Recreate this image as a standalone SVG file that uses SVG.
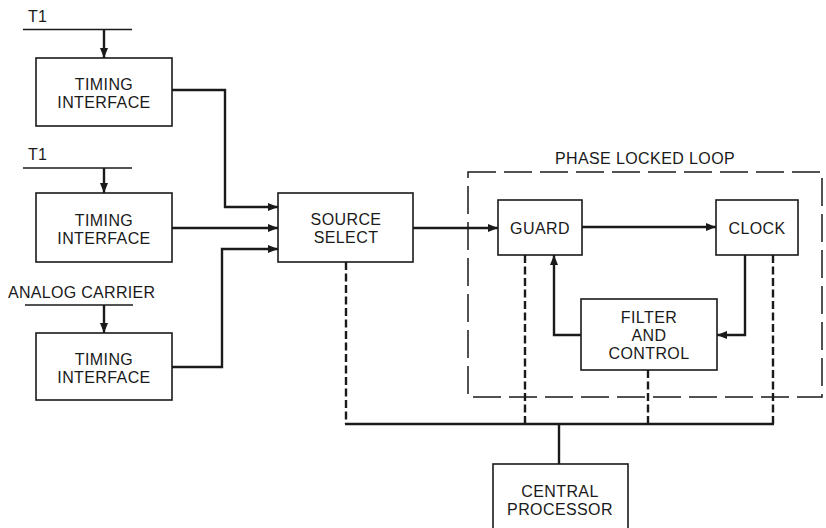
<svg xmlns="http://www.w3.org/2000/svg" width="826" height="528" viewBox="0 0 826 528">
<style>
.box{fill:#fff;stroke:#1a1a1a;stroke-width:1.6}
.t{font-family:"Liberation Sans",Arial,sans-serif;font-size:16px;fill:#1a1a1a;text-anchor:middle;letter-spacing:0.4px}
.tl{font-family:"Liberation Sans",Arial,sans-serif;font-size:16px;fill:#1a1a1a;letter-spacing:0.3px}
.w{fill:none;stroke:#1a1a1a;stroke-width:2.4}
.thin{fill:none;stroke:#1a1a1a;stroke-width:1.5}
.d{fill:none;stroke:#1a1a1a;stroke-width:2.4;stroke-dasharray:8,3.5}
.pll{fill:none;stroke:#1a1a1a;stroke-width:1.5;stroke-dasharray:28,8}
</style>
<defs>
<marker id="ah" viewBox="0 0 10 8" refX="10" refY="4" markerWidth="10" markerHeight="8" markerUnits="userSpaceOnUse" orient="auto">
<path d="M0,0 L10,4 L0,8 z" fill="#1a1a1a"/>
</marker>
</defs>
<rect width="826" height="528" fill="#fff"/>
<g id="pll-frame">
<rect class="pll" x="468" y="172" width="354" height="225"/>
<text class="t" x="645" y="164">PHASE LOCKED LOOP</text>
</g>
<g id="inputs">
<text class="tl" x="28" y="22">T1</text>
<line class="thin" x1="23" y1="29.5" x2="132" y2="29.5"/>
<text class="tl" x="28" y="160">T1</text>
<line class="thin" x1="23" y1="168" x2="132" y2="168"/>
<text class="tl" x="8" y="298">ANALOG CARRIER</text>
<line class="thin" x1="25" y1="305" x2="133" y2="305"/>
</g>
<g id="connectors">
<line class="w" x1="104" y1="29.5" x2="104" y2="58" marker-end="url(#ah)"/>
<line class="w" x1="104" y1="168" x2="104" y2="193" marker-end="url(#ah)"/>
<line class="w" x1="104" y1="305" x2="104" y2="333" marker-end="url(#ah)"/>
<polyline class="w" points="172,90 225,90 225,207 278,207" marker-end="url(#ah)"/>
<line class="w" x1="172" y1="228" x2="278" y2="228" marker-end="url(#ah)"/>
<polyline class="w" points="172,367 222,367 222,249 278,249" marker-end="url(#ah)"/>
<line class="w" x1="413" y1="228" x2="498" y2="228" marker-end="url(#ah)"/>
<line class="w" x1="582" y1="227" x2="716" y2="227" marker-end="url(#ah)"/>
<polyline class="w" points="745,255 745,335 717,335" marker-end="url(#ah)"/>
<polyline class="w" points="581,335 554,335 554,255" marker-end="url(#ah)"/>
<line class="d" x1="346" y1="262" x2="346" y2="424"/>
<line class="d" x1="525" y1="255" x2="525" y2="424"/>
<line class="d" x1="648" y1="370" x2="648" y2="424"/>
<line class="d" x1="773" y1="255" x2="773" y2="424"/>
<polyline class="w" points="345,424 774,424"/>
<line class="w" x1="559" y1="424" x2="559" y2="464"/>
</g>
<g id="timing1">
<rect class="box" x="36" y="58" width="136" height="68"/>
<text class="t" x="104" y="90">TIMING</text>
<text class="t" x="104" y="108">INTERFACE</text>
</g>
<g id="timing2">
<rect class="box" x="36" y="193" width="136" height="69"/>
<text class="t" x="104" y="226">TIMING</text>
<text class="t" x="104" y="244">INTERFACE</text>
</g>
<g id="timing3">
<rect class="box" x="36" y="333" width="136" height="67"/>
<text class="t" x="104" y="365">TIMING</text>
<text class="t" x="104" y="383">INTERFACE</text>
</g>
<g id="source-select">
<rect class="box" x="278" y="193" width="135" height="69"/>
<text class="t" x="346" y="225">SOURCE</text>
<text class="t" x="346" y="243">SELECT</text>
</g>
<g id="guard">
<rect class="box" x="498" y="200" width="84" height="55"/>
<text class="t" x="540" y="234">GUARD</text>
</g>
<g id="clock">
<rect class="box" x="716" y="200" width="82" height="55"/>
<text class="t" x="757" y="234">CLOCK</text>
</g>
<g id="filter-control">
<rect class="box" x="581" y="299" width="136" height="71"/>
<text class="t" x="649" y="323">FILTER</text>
<text class="t" x="649" y="341">AND</text>
<text class="t" x="649" y="359">CONTROL</text>
</g>
<g id="central-processor">
<rect class="box" x="493" y="464" width="135" height="70"/>
<text class="t" x="560" y="497">CENTRAL</text>
<text class="t" x="560" y="515">PROCESSOR</text>
</g>
</svg>
